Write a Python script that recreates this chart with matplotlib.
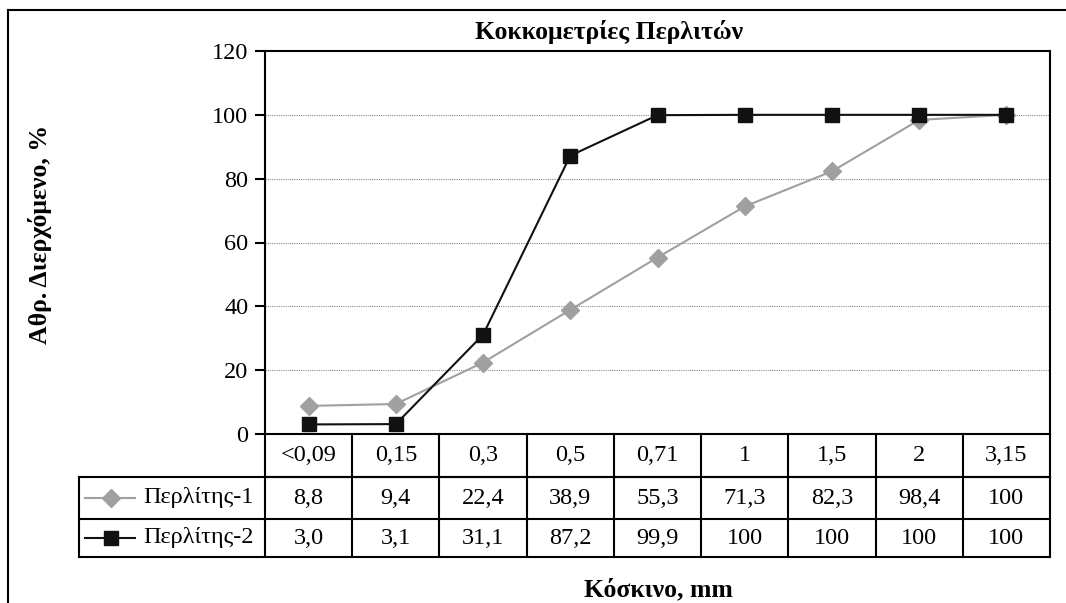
import matplotlib
matplotlib.use("Agg")
import matplotlib.pyplot as plt
from matplotlib.lines import Line2D
from matplotlib.transforms import blended_transform_factory

categories = ["<0,09", "0,15", "0,3", "0,5", "0,71", "1", "1,5", "2", "3,15"]
series1_name = "Περλίτης-1"
series1 = [8.8, 9.4, 22.4, 38.9, 55.3, 71.3, 82.3, 98.4, 100]
series2_name = "Περλίτης-2"
series2 = [3.0, 3.1, 31.1, 87.2, 99.9, 100, 100, 100, 100]
yticks = [0, 20, 40, 60, 80, 100, 120]

plt.rcParams['font.family'] = ['Liberation Serif', 'DejaVu Serif']

W, H = 1066, 603
fig = plt.figure(figsize=(W / 100, H / 100), dpi=100)
fig.patch.set_facecolor('white')

FS = 17.5
FT = 18.5

L, R, T, B = 265, 1050, 51, 434
ax = fig.add_axes([L / W, 1 - B / H, (R - L) / W, (B - T) / H])

c1 = '#a0a0a0'
c2 = '#111111'
x = list(range(len(categories)))
ax.plot(x, series1, color=c1, lw=1.5, marker='D', ms=9, mec=c1, mfc=c1, zorder=3)
ax.plot(x, series2, color=c2, lw=1.5, marker='s', ms=10.5, mec=c2, mfc=c2, zorder=4)

ax.set_xlim(-0.5, len(categories) - 0.5)
ax.set_ylim(0, 120)
ax.set_yticks(yticks)
ax.set_yticklabels([str(v) for v in yticks], fontsize=FS)
ax.set_xticks([])
ax.tick_params(axis='y', direction='out', length=7, width=1.5, pad=5)
for v in yticks[1:-1]:
    ax.axhline(v, color='#888888', lw=0.8, ls=(0, (1, 1)), zorder=1)
for s in ax.spines.values():
    s.set_linewidth(1.5)
    s.set_color('black')

# data table
ph = B - T
pw = R - L
y_hdr = -(477 - B) / ph
y_r1 = -(519 - B) / ph
y_r2 = -(557 - B) / ph
x_lab = -(L - 79) / pw
tb = blended_transform_factory(ax.transData, ax.transAxes)
lw_t = 1.5
kw = dict(color='black', lw=lw_t, clip_on=False, transform=ax.transAxes)
ax.add_line(Line2D([0, 1], [y_hdr, y_hdr], **kw))
ax.add_line(Line2D([x_lab, 1], [y_hdr, y_hdr], **kw))
ax.add_line(Line2D([x_lab, 1], [y_r1, y_r1], **kw))
ax.add_line(Line2D([x_lab, 1], [y_r2, y_r2], **kw))
ax.add_line(Line2D([x_lab, x_lab], [y_hdr, y_r2], **kw))
ax.add_line(Line2D([1, 1], [0, y_r2], **kw))
ax.add_line(Line2D([0, 0], [0, y_r2], **kw))
for i in range(1, len(categories)):
    ax.add_line(Line2D([i - 0.5, i - 0.5], [0, y_r2], color='black', lw=lw_t,
                       clip_on=False, transform=tb))

def fmt(v):
    if v == 100:
        return "100"
    return f"{v:.1f}".replace('.', ',')

for i, c in enumerate(categories):
    ax.text(i, y_hdr / 2, c, transform=tb, ha='center', va='center', fontsize=FS)
    ax.text(i, (y_hdr + y_r1) / 2, fmt(series1[i]), transform=tb, ha='center', va='center', fontsize=FS)
    ax.text(i, (y_r1 + y_r2) / 2, fmt(series2[i]), transform=tb, ha='center', va='center', fontsize=FS)

# legend keys
kx0 = -(L - 85) / pw
kx1 = -(L - 135) / pw
kxm = -(L - 111) / pw
ytxt = -(L - 143) / pw
for yy, col, mk, ms, name in [((y_hdr + y_r1) / 2, c1, 'D', 9, series1_name),
                              ((y_r1 + y_r2) / 2, c2, 's', 10.5, series2_name)]:
    ax.add_line(Line2D([kx0, kx1], [yy, yy], color=col, lw=1.5, clip_on=False, transform=ax.transAxes))
    ax.add_line(Line2D([kxm], [yy], color=col, marker=mk, ms=ms, mfc=col, mec=col, lw=0,
                       clip_on=False, transform=ax.transAxes))
    ax.text(ytxt, yy, name, transform=ax.transAxes, ha='left', va='center', fontsize=FS)

# titles
fig.text(609 / W, 1 - 32 / H, "Κοκκομετρίες Περλιτών", ha='center', va='center',
         fontsize=FT, fontweight='bold')
fig.text(658 / W, 1 - 590 / H, "Κόσκινο, mm", ha='center', va='center',
         fontsize=FT, fontweight='bold')
fig.text(40 / W, 1 - 234 / H, "Αθρ. Διερχόμενο, %", ha='center', va='center',
         fontsize=FT, fontweight='bold', rotation=90)

# outer chart frame (partially visible)
fig.add_artist(Line2D([8 / W, 8 / W], [0, 1 - 10 / H], color='black', lw=1.5, transform=fig.transFigure))
fig.add_artist(Line2D([8 / W, 1], [1 - 10 / H, 1 - 10 / H], color='black', lw=1.5, transform=fig.transFigure))

fig.savefig("out.png", dpi=100, facecolor='white')
